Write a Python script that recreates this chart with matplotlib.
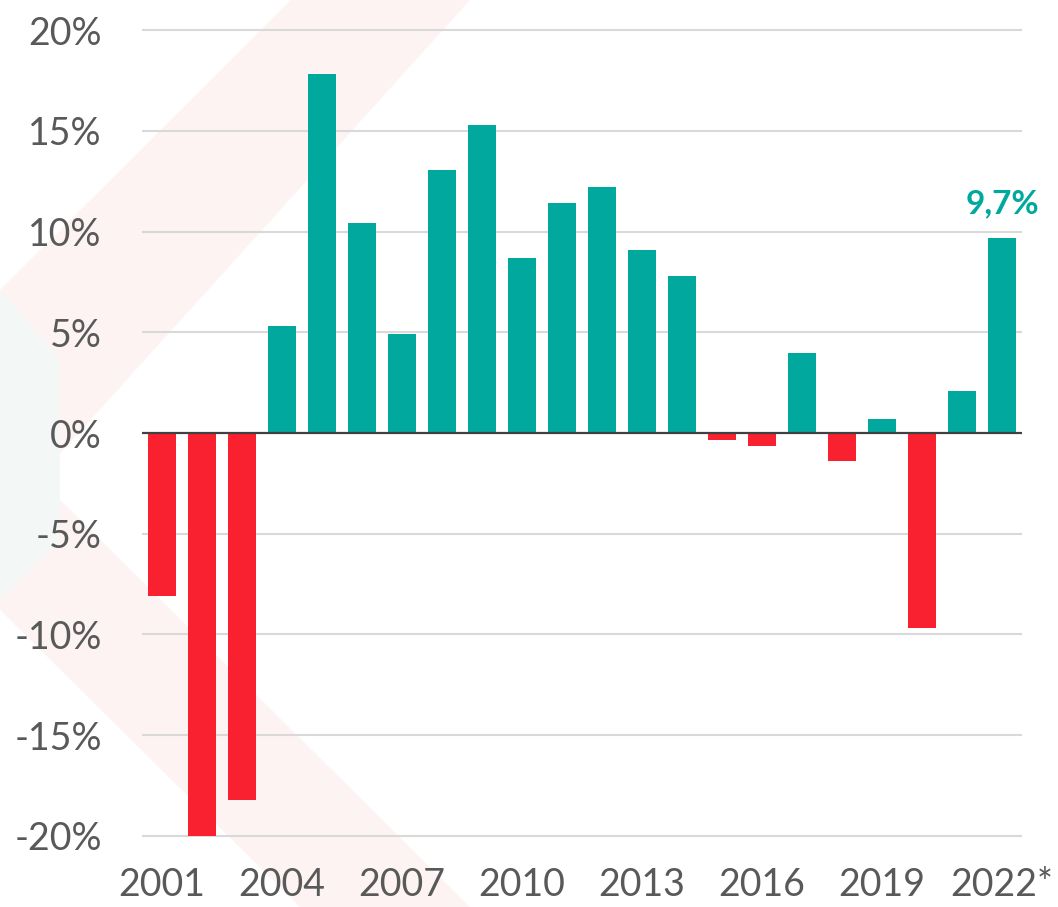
import numpy as np
import matplotlib
matplotlib.use("Agg")
import matplotlib.pyplot as plt
from matplotlib.patches import Polygon

years = ["2001", "2002", "2003", "2004", "2005", "2006", "2007", "2008", "2009",
         "2010", "2011", "2012", "2013", "2014", "2015", "2016", "2017", "2018",
         "2019", "2020", "2021", "2022*"]
growth = [-8.1, -20.0, -18.2, 5.3, 17.8, 10.4, 4.9, 13.05, 15.3,
          8.7, 11.4, 12.2, 9.1, 7.8, -0.35, -0.65, 3.95, -1.4,
          0.7, -9.7, 2.1, 9.7]
yticks = [-20, -15, -10, -5, 0, 5, 10, 15, 20]
last_label = "9,7%"

teal = "#00A89D"
red = "#F9212F"

plt.rcParams['font.family'] = ['Lato', 'DejaVu Sans']

fig = plt.figure(figsize=(10.58, 9.07), dpi=100)

# faint watermark chevron in the background
bg = fig.add_axes([0, 0, 1, 1], zorder=-1)
bg.set_xlim(0, 1058)
bg.set_ylim(907, 0)
bg.axis("off")
bg.add_patch(Polygon([(291, 0), (470, 0), (0, 520), (0, 290)], closed=True,
                     facecolor="#FDF3F3", edgecolor="none"))
bg.add_patch(Polygon([(0, 440), (0, 610), (300, 907), (470, 907)], closed=True,
                     facecolor="#FDF3F3", edgecolor="none"))
bg.add_patch(Polygon([(0, 290), (60, 360), (60, 540), (0, 600)], closed=True,
                     facecolor="#F3F8F6", edgecolor="none"))

ax = fig.add_axes([0.1342, 0.0672, 0.8318, 0.9108])
ax.patch.set_alpha(0)

x = np.arange(len(years))
colors = [teal if v >= 0 else red for v in growth]
ax.bar(x, growth, width=0.71, color=colors, zorder=3)

ax.set_xlim(-0.5, len(years) - 0.5)
ax.set_ylim(-20.5, 20.5)

for t in yticks:
    if t == 0:
        ax.axhline(0, color="#404040", lw=1.6, zorder=4)
    else:
        ax.axhline(t, color="#D9D9D9", lw=1.5, zorder=1)

ax.set_yticks(yticks)
ax.set_yticklabels([f"{t}%" for t in yticks])
ax.set_xticks(x[::3])
ax.set_xticklabels(years[::3])
ax.tick_params(axis="y", length=0, pad=29, labelsize=27, labelcolor="#595959")
ax.tick_params(axis="x", length=0, pad=15, labelsize=27, labelcolor="#595959")

for s in ax.spines.values():
    s.set_visible(False)

ax.annotate(last_label, xy=(x[-1], growth[-1]), xytext=(0, 14),
            textcoords="offset points", ha="center", va="bottom",
            fontsize=24, fontweight="bold", color=teal)

fig.savefig("out.png", dpi=100)
